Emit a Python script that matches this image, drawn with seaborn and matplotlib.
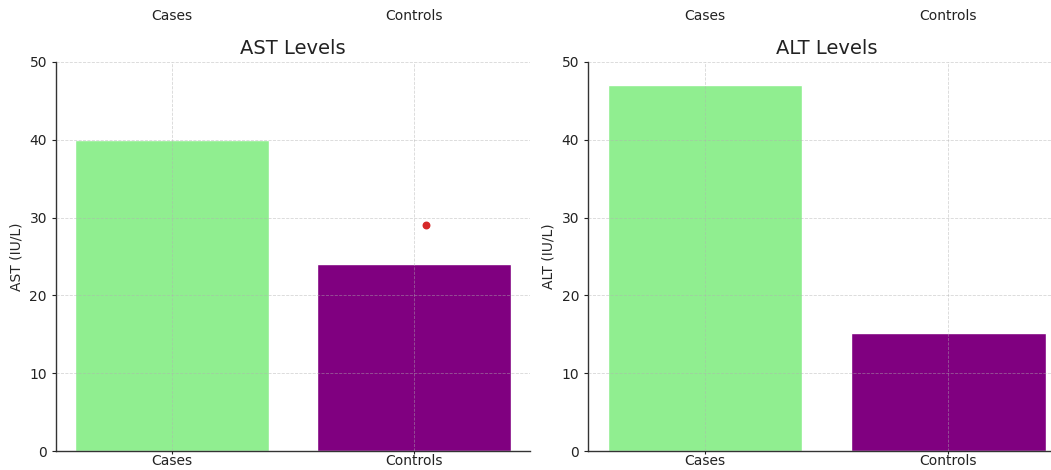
import pandas as pd
import matplotlib
matplotlib.use("Agg")
import matplotlib.pyplot as plt
import matplotlib.transforms as mtransforms
import seaborn as sns

# Data
groups = ["Cases", "Controls"]
ast_values = [40, 24]
alt_values = [47, 15.2]
ast_outlier_group = "Controls"
ast_outlier_value = 29.1
bar_colors = ["#90ee90", "#800080"]

sns.set_style("white")
plt.rcParams['font.family'] = ['DejaVu Sans']

fig = plt.figure(figsize=(10.51, 4.70), dpi=100)
ax1 = fig.add_axes([0.0533, 0.0404, 0.451, 0.8277])
ax2 = fig.add_axes([0.5595, 0.0404, 0.4539, 0.8277])

panels = [
    (ax1, ast_values, "AST Levels", "AST (IU/L)"),
    (ax2, alt_values, "ALT Levels", "ALT (IU/L)"),
]

for ax, values, title, ylabel in panels:
    df = pd.DataFrame({"group": groups, "value": values})
    sns.barplot(data=df, x="group", y="value", hue="group", palette=bar_colors,
                width=0.8, saturation=1, legend=False, ax=ax, zorder=1)
    ax.set_ylim(0, 50)
    ax.set_xlim(-0.48, 1.48)
    ax.set_yticks([0, 10, 20, 30, 40, 50])
    ax.set_title(title, fontsize=14, color="#222222")
    ax.set_xlabel("")
    ax.set_ylabel(ylabel, fontsize=10)
    ax.tick_params(axis="both", labelsize=10, length=3, left=True, bottom=True, colors="#222222")
    ax.tick_params(axis="x", pad=0.5, length=2)
    ax.grid(True, linestyle="--", linewidth=0.6, color="#b0b0b0", alpha=0.5, zorder=3)
    ax.set_axisbelow(False)
    sns.despine(ax=ax)
    for s in ["left", "bottom"]:
        ax.spines[s].set_color("#333333")
        ax.spines[s].set_linewidth(1.0)
    # leftover tick labels of the row above, cropped in the screenshot
    trans = mtransforms.blended_transform_factory(ax.transData, fig.transFigure)
    for i, g in enumerate(groups):
        ax.text(i, 1 - 16 / 470, g, transform=trans, ha="center", va="center",
                fontsize=10, color="#222222")

# single red point on the AST panel
xi = groups.index(ast_outlier_group)
ax1.scatter([xi + 0.05], [ast_outlier_value], color="#d62728", s=22, zorder=4)

fig.savefig("out.png", dpi=100)
plt.close(fig)
